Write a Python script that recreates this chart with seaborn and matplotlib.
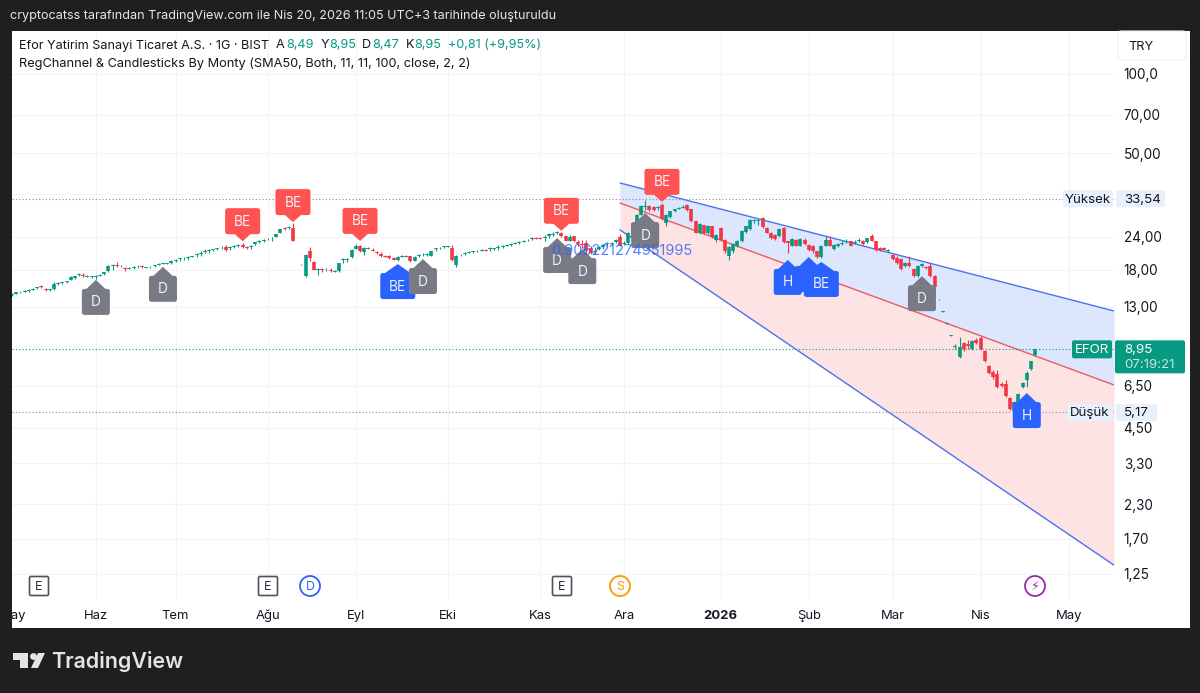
import matplotlib
matplotlib.use('Agg')
import matplotlib.pyplot as plt
from matplotlib.patches import Rectangle, FancyBboxPatch, Polygon, Circle
import numpy as np
import seaborn as sns

# --- Data ---
opens = [14.4, 14.6, 14.75, 14.85, 14.9, 15.1, 15.3, 15.6, 15.25, 15.0,
         15.2, 15.85, 15.95, 16.1, 16.5, 16.75, 17.15, 17.15, 16.85, 16.9,
         16.85, 17.05, 17.25, 17.75, 18.55, 18.8, 18.55, 18.3, 18.15, 18.25,
         18.35, 18.6, 18.3, 18.35, 18.55, 18.8, 18.9, 18.95, 19.0, 19.4,
         19.7, 19.85, 20.0, 20.1, 20.4, 20.6, 21.0, 21.2, 21.4, 21.55,
         21.7, 21.9, 21.7, 22.0, 22.1, 22.3, 21.95, 21.9, 22.45, 22.9,
         23.2, 23.45, 23.65, 24.0, 24.9, 25.85, 25.9, 25.9, 21.0, 18.85,
         16.95, 21.1, 19.3, 17.95, 18.1, 17.9, 18.0, 17.7, 17.75, 19.5,
         19.6, 20.1, 21.65, 22.15, 20.95, 21.65, 21.45, 21.0, 20.65, 20.35,
         20.25, 19.9, 19.5, 20.15, 20.15, 20.2, 19.4, 20.25, 20.4, 20.5,
         20.35, 21.5, 21.7, 21.9, 22.0, 21.8, 18.8, 20.4, 20.7, 20.8,
         20.95, 21.1, 21.25, 21.4, 21.5, 21.55, 21.8, 21.95, 22.1, 22.35,
         22.55, 22.8, 23.0, 23.25, 23.55, 23.8, 23.85, 23.75, 24.2, 24.45,
         24.8, 24.9, 24.1, 23.2, 24.1, 23.0, 22.5, 22.65, 21.8, 20.95,
         21.65, 22.0, 22.45, 22.5, 23.0, 23.9, 22.5, 22.65, 23.7, 26.6,
         29.1, 31.3, 31.45, 31.25, 30.9, 31.7, 27.0, 28.6, 30.1, 30.7,
         31.0, 31.7, 30.5, 27.45, 24.9, 26.6, 24.75, 26.35, 23.35, 25.9,
         23.35, 20.2, 21.1, 22.05, 23.05, 25.1, 25.65, 27.45, 27.6, 28.3,
         25.9, 24.9, 24.4, 24.1, 25.9, 23.05, 22.2, 23.35, 22.2, 23.35,
         22.35, 22.2, 21.1, 20.15, 22.2, 23.35, 21.6, 22.2, 22.5, 22.9,
         23.05, 22.7, 23.05, 23.15, 22.85, 24.1, 23.05, 21.8, 21.75, 21.2,
         20.5, 19.9, 19.75, 18.55, 19.1, 18.1, 17.05, 18.65, 18.45, 18.55,
         17.05, 13.9, 12.45, 11.2, 10.1, 9.1, 8.35, 9.45, 9.4, 9.0,
         9.7, 9.85, 8.85, 7.75, 7.35, 7.2, 6.6, 6.6, 5.85, 5.2,
         5.65, 6.45, 6.85, 7.55, 8.49]
closes = [14.55, 14.75, 14.85, 14.95, 15.0, 15.25, 15.45, 15.4, 15.05, 15.15,
          15.85, 16.0, 16.1, 16.25, 16.9, 16.95, 17.25, 16.95, 16.98, 17.0,
          17.0, 17.2, 17.6, 18.65, 18.75, 18.6, 18.65, 18.1, 18.3, 18.45,
          18.5, 18.4, 18.45, 18.5, 18.7, 18.9, 19.0, 19.05, 19.45, 19.6,
          19.85, 20.0, 20.15, 20.25, 20.6, 20.8, 21.2, 21.35, 21.55, 21.7,
          21.85, 21.45, 21.9, 22.15, 22.25, 22.0, 21.8, 22.05, 22.85, 23.15,
          23.4, 23.6, 23.8, 24.6, 25.6, 25.65, 26.1, 23.2, 21.05, 18.9,
          20.5, 19.9, 18.0, 18.1, 17.95, 18.0, 17.85, 17.8, 19.05, 19.7,
          19.8, 21.3, 22.05, 21.1, 21.8, 21.8, 21.2, 20.8, 20.3, 20.15,
          19.9, 19.6, 20.1, 20.3, 20.3, 19.4, 20.1, 20.4, 20.55, 20.6,
          21.1, 21.7, 21.85, 22.05, 22.1, 19.5, 20.35, 20.55, 20.85, 20.95,
          21.1, 21.25, 21.4, 21.25, 21.7, 21.7, 21.95, 22.1, 22.25, 22.5,
          22.7, 22.95, 23.15, 23.4, 23.75, 23.55, 23.6, 24.0, 24.5, 24.65,
          24.95, 24.1, 23.15, 24.0, 23.05, 22.6, 22.25, 21.1, 20.8, 21.2,
          21.9, 22.3, 22.65, 22.7, 23.3, 22.2, 22.7, 24.9, 27.1, 29.1,
          31.45, 31.55, 30.4, 30.4, 31.1, 28.0, 29.1, 30.0, 30.5, 31.0,
          31.3, 30.4, 27.45, 24.9, 26.8, 24.75, 26.45, 23.95, 24.4, 23.35,
          21.1, 22.0, 22.55, 23.2, 25.35, 26.35, 27.8, 27.75, 27.85, 26.1,
          24.9, 23.7, 23.5, 25.75, 22.85, 22.65, 23.5, 22.2, 23.5, 22.55,
          21.4, 21.1, 20.15, 22.2, 23.35, 22.2, 22.35, 22.5, 22.8, 23.2,
          22.2, 23.0, 23.35, 22.55, 23.7, 23.2, 21.4, 21.3, 21.45, 21.45,
          19.75, 19.1, 18.1, 19.1, 18.55, 17.05, 18.55, 18.9, 18.2, 16.95,
          15.45, 13.95, 12.5, 11.25, 10.15, 9.2, 9.15, 8.95, 9.2, 9.6,
          9.5, 9.0, 8.05, 7.25, 7.0, 6.45, 6.5, 5.95, 5.3, 5.65,
          6.05, 6.65, 7.3, 8.05, 8.95]
highs = [14.7, 14.85, 14.95, 15.05, 15.2, 15.35, 15.5, 15.7, 15.3, 15.2,
         16.1, 16.1, 16.2, 16.35, 17.0, 17.05, 17.4, 17.4, 17.1, 17.05,
         17.1, 17.3, 17.7, 18.8, 18.95, 19.3, 18.8, 18.4, 18.4, 18.65,
         18.7, 18.8, 18.5, 18.55, 18.75, 19.0, 19.05, 19.1, 19.6, 19.7,
         20.0, 20.15, 20.3, 20.35, 20.75, 21.1, 21.5, 21.5, 21.65, 21.85,
         22.1, 22.3, 22.15, 22.35, 22.5, 22.8, 22.1, 22.3, 23.0, 23.3,
         23.6, 23.75, 24.0, 24.7, 25.75, 26.2, 26.4, 27.0, 21.05, 18.9,
         20.6, 21.9, 19.45, 18.3, 18.25, 18.2, 18.3, 17.9, 19.15, 20.0,
         20.0, 21.5, 22.5, 22.35, 22.0, 21.95, 21.7, 21.1, 20.95, 20.55,
         20.55, 20.05, 20.25, 20.4, 20.45, 20.35, 20.3, 20.6, 20.75, 20.8,
         21.2, 21.85, 22.0, 22.15, 22.2, 22.35, 20.55, 20.7, 20.95, 21.1,
         21.2, 21.4, 21.5, 21.5, 22.0, 21.85, 22.25, 22.3, 22.35, 22.75,
         22.85, 23.1, 23.35, 23.6, 23.95, 23.9, 24.0, 24.3, 24.85, 25.0,
         25.3, 25.1, 24.2, 24.3, 24.2, 23.4, 23.35, 23.3, 22.2, 21.9,
         22.2, 22.5, 22.85, 23.0, 23.6, 24.6, 23.2, 25.0, 27.3, 29.2,
         31.6, 33.1, 31.7, 31.5, 31.4, 32.2, 29.3, 30.2, 30.7, 31.3,
         31.6, 32.0, 30.6, 27.6, 27.0, 26.7, 26.6, 26.5, 24.6, 26.1,
         23.5, 22.2, 22.7, 23.35, 25.5, 26.5, 28.0, 28.0, 28.1, 28.6,
         26.1, 25.05, 24.55, 25.95, 26.15, 23.2, 23.8, 23.5, 23.65, 23.7,
         22.5, 22.4, 21.25, 22.35, 24.2, 24.1, 22.5, 22.8, 23.1, 23.6,
         23.2, 23.3, 23.8, 23.3, 23.85, 24.6, 23.2, 21.95, 21.9, 21.6,
         20.7, 20.3, 19.9, 19.25, 20.2, 18.25, 18.7, 19.1, 18.6, 19.1,
         17.2, 13.95, 12.5, 11.25, 10.15, 9.35, 9.95, 9.55, 9.7, 9.75,
         9.85, 10.05, 8.9, 7.8, 7.5, 7.45, 6.75, 6.85, 5.9, 5.7,
         6.1, 6.7, 7.4, 8.1, 8.95]
lows = [14.25, 14.5, 14.7, 14.75, 14.8, 15.0, 15.25, 15.3, 14.95, 14.9,
        15.1, 15.75, 15.9, 15.95, 16.4, 16.55, 17.05, 16.85, 16.8, 16.75,
        16.6, 16.95, 17.2, 17.7, 18.0, 18.4, 18.45, 17.85, 18.05, 18.1,
        18.2, 18.2, 18.25, 18.25, 18.5, 18.75, 18.85, 18.9, 18.9, 19.25,
        19.4, 19.6, 19.6, 20.05, 20.15, 20.2, 20.8, 20.85, 21.25, 21.45,
        21.5, 21.2, 21.35, 21.85, 21.95, 21.85, 21.65, 21.55, 22.3, 22.75,
        23.0, 23.3, 23.05, 23.9, 24.8, 25.4, 25.7, 23.1, 20.95, 18.8,
        16.9, 19.4, 17.9, 17.1, 17.7, 17.75, 17.7, 17.65, 17.7, 19.1,
        19.25, 20.0, 21.55, 20.95, 20.5, 21.5, 21.1, 20.7, 20.1, 20.05,
        19.75, 19.5, 19.45, 20.05, 20.05, 19.3, 19.35, 20.1, 20.3, 20.25,
        20.3, 21.1, 21.6, 21.85, 21.95, 19.4, 18.4, 20.3, 20.5, 20.75,
        20.85, 21.0, 21.1, 21.15, 21.1, 21.45, 21.45, 21.85, 22.05, 22.15,
        22.45, 22.5, 22.85, 23.15, 23.35, 23.45, 23.5, 23.2, 23.85, 24.2,
        24.6, 24.0, 23.05, 23.05, 22.95, 22.2, 21.8, 20.9, 20.6, 20.7,
        21.3, 21.6, 22.2, 22.3, 22.7, 22.05, 22.35, 22.5, 23.6, 26.5,
        29.0, 30.4, 30.2, 30.2, 30.3, 27.9, 26.3, 28.4, 29.9, 30.5,
        30.9, 30.2, 27.3, 24.8, 24.7, 24.6, 24.6, 23.8, 23.0, 23.2,
        20.9, 19.6, 20.9, 21.9, 22.9, 24.9, 25.5, 27.2, 26.6, 25.95,
        24.75, 23.55, 23.35, 23.95, 22.7, 20.9, 22.05, 22.05, 22.05, 22.4,
        21.25, 20.9, 20.0, 20.0, 22.05, 22.05, 21.3, 22.0, 22.35, 22.7,
        22.05, 22.5, 22.9, 22.4, 22.7, 23.05, 21.25, 21.15, 21.3, 21.05,
        19.6, 18.95, 17.95, 18.4, 18.4, 16.9, 16.9, 18.5, 18.05, 16.8,
        15.1, 13.85, 12.4, 11.15, 10.05, 8.95, 8.3, 8.85, 9.0, 8.9,
        9.4, 8.9, 8.0, 7.2, 6.9, 6.4, 6.45, 5.9, 5.25, 5.17,
        5.6, 6.4, 6.45, 7.5, 8.47]

# regression channel ends
chan_x = [145, 262.8]
chan_upper = [38.47, 12.53]
chan_mid = [32.28, 6.55]
chan_lower = [25.5, 1.35]

# markers: bar index, price at the tip, text, colour, pointing up or not
mark_idx = [55, 67, 83, 131, 155, 20, 36, 92, 98, 130, 136, 151, 185, 190, 193, 217, 242]
mark_price = [23.1, 27.3, 23.15, 25.3, 32.6, 16.45, 18.45, 18.9, 19.75, 23.75, 21.55, 29.55, 19.6, 20.1, 19.25, 17.0, 6.1]
mark_text = ['BE', 'BE', 'BE', 'BE', 'BE', 'D', 'D', 'BE', 'D', 'D', 'D', 'D', 'H', 'H', 'BE', 'D', 'H']
mark_up = [False] * 5 + [True] * 12

price_ticks = [100, 70, 50, 24, 18, 13, 6.5, 4.5, 3.3, 2.3, 1.7, 1.25]
price_labels = ['100,0', '70,00', '50,00', '24,00', '18,00', '13,00', '6,50', '4,50', '3,30', '2,30', '1,70', '1,25']
grid_prices = [100, 70, 50, 35, 24, 18, 13, 9.2, 6.5, 4.5, 3.3, 2.3, 1.7, 1.25]

time_idx = [0.2, 20, 39, 61, 82, 104, 126, 146, 169, 190, 210, 231, 252]
time_labels = ['May', 'Haz', 'Tem', 'Ağu', 'Eyl', 'Eki', 'Kas', 'Ara', '2026', 'Şub', 'Mar', 'Nis', 'May']

high_price, low_price, last_price = 33.54, 5.17, 8.95

GREEN = '#089981'
RED = '#f23645'
BLUE = '#2962ff'
GREY = '#787b86'
DARK = '#131722'
COL_MARK = {'BE': '#ff5252', 'D': GREY, 'H': BLUE}

sns.set_theme(style='white')
plt.rcParams['font.family'] = ['Inter', 'DejaVu Sans']

fig = plt.figure(figsize=(12, 6.93), dpi=100, facecolor='#1f1f1f')


def px_axes(x0, y0, x1, y1, **kw):
    return fig.add_axes([x0 / 1200, 1 - y1 / 693, (x1 - x0) / 1200, (y1 - y0) / 693], **kw)


# --- Panels ---
bg = px_axes(0, 0, 1200, 693, zorder=0)
bg.set_xlim(0, 1200)
bg.set_ylim(693, 0)
bg.set_axis_off()
bg.add_patch(Rectangle((12, 31), 1178, 597, fc='white', ec='none'))

ax = px_axes(12, 32, 1114, 600, zorder=1)
ax.patch.set_alpha(0)
ax.set_yscale('log')
ax.set_xlim(0, 262.8)
ax.set_ylim(0.9945, 144.5)
sns.despine(ax=ax, left=True, bottom=True, right=True, top=True)

ov = px_axes(0, 0, 1200, 693, zorder=3)
ov.patch.set_alpha(0)
ov.set_xlim(0, 1200)
ov.set_ylim(693, 0)
ov.set_axis_off()


def to_px(i, price):
    dx, dy = ax.transData.transform((i, price))
    return dx, 693 - dy


# --- Grid and price scale ---
ax.set_xticks(time_idx[1:], [])
ax.xaxis.set_tick_params(length=0)
ax.grid(True, axis='x', color='#f2f3f5', lw=0.8)
ax.set_axisbelow(True)
for p in grid_prices:
    ax.axhline(p, color='#f2f3f5', lw=0.8, zorder=0.5)
ax.yaxis.tick_right()
ax.set_yticks(price_ticks, price_labels)
ax.minorticks_off()
ax.tick_params(axis='y', length=0, pad=7, labelsize=9.8, labelcolor=DARK)
ax.tick_params(axis='x', which='both', length=0)

# --- Regression channel ---
ax.fill_between(chan_x, chan_mid, chan_upper, color='#dce6fc', lw=0, zorder=1)
ax.fill_between(chan_x, chan_lower, chan_mid, color='#fde3e3', lw=0, zorder=1)
for vals, col in [(chan_upper, '#4a72ec'), (chan_mid, '#ec5a64'), (chan_lower, '#4a72ec')]:
    sns.lineplot(x=chan_x, y=vals, color=col, lw=1.0, ax=ax, zorder=2, legend=False)
ax.set_xlim(0, 262.8)
ax.set_ylim(0.9945, 144.5)

# --- Levels ---
ax.axhline(high_price, color='#8a8d96', lw=0.8, ls=(0, (1, 2)), zorder=2)
ax.axhline(low_price, color='#8a8d96', lw=0.8, ls=(0, (1, 2)), zorder=2)
ax.axhline(last_price, color=GREEN, lw=0.8, ls=(0, (1, 2)), zorder=2)

# --- Candles ---
idx = np.arange(len(closes))
o, c, h, l = map(np.array, (opens, closes, highs, lows))
cols = np.where(c >= o, GREEN, RED)
ax.vlines(idx, l, h, colors=cols, lw=0.8, zorder=3)
ax.vlines(idx, np.minimum(o, c), np.maximum(o, c), colors=cols, lw=2.6, zorder=3, capstyle='butt')

# --- Markers ---
z = 4
for i, p, txt, up in zip(mark_idx, mark_price, mark_text, mark_up):
    col = COL_MARK[txt] if (txt != 'BE' or not up) else BLUE
    tx, ty = to_px(i, p)
    w = 35 if txt == 'BE' else 28
    if up:
        top, bot = ty + 9, ty + 35
        shape = [(tx, ty), (tx - w / 2 + 4, ty + 9.5), (tx - w / 2 + 2, ty + 9.5), (tx + w / 2 - 2, ty + 9.5), (tx + w / 2 - 4, ty + 9.5)]
    else:
        top, bot = ty - 33, ty - 7
        shape = [(tx, ty), (tx - 9, ty - 8), (tx + 9, ty - 8)]
    ov.add_patch(FancyBboxPatch((tx - w / 2 + 2, top + 2), w - 4, bot - top - 4,
                                boxstyle='round,pad=2,rounding_size=2.5', fc=col, ec='none', zorder=z))
    ov.add_patch(Polygon(shape, fc=col, ec='none', zorder=z))
    ov.text(tx, (top + bot) / 2 + 0.5, txt, color='#f2f2f2', fontsize=9.8, ha='center', va='center', zorder=z)
    z += 0.01

ov.text(551, 251, '0.906221274951995', color=BLUE, alpha=0.8, fontsize=10.5, va='center', zorder=6)

# --- Event icons ---
for xp in [39, 268, 562]:
    ov.add_patch(FancyBboxPatch((30.5 + xp - 39, 577.5), 17, 17, boxstyle='round,pad=1,rounding_size=1.5',
                                fc='white', ec='#50535e', lw=1.2, zorder=4))
    ov.text(xp, 586.5, 'E', color='#2a2e39', fontsize=9, ha='center', va='center', zorder=5)
for xp, col, txt in [(310, BLUE, 'D'), (620, '#ff9800', 'S'), (1035, '#9c27b0', '⚡')]:
    ov.add_patch(Circle((xp, 586), 10, fc='white', ec=col, lw=1.3, zorder=4))
    ov.text(xp, 586.5, txt, color=col, fontsize=9, ha='center', va='center', zorder=5)

# --- Price labels on the right ---
def pill(x0, x1, yc, h_, col, txt, txt_col, tx=None, **kw):
    ov.add_patch(FancyBboxPatch((x0 + 2, yc - h_ / 2 + 2), x1 - x0 - 4, h_ - 4, boxstyle='round,pad=2,rounding_size=2',
                                fc=col, ec='none', zorder=6))
    ov.text(tx if tx else (x0 + x1) / 2, yc + 1, txt, color=txt_col, fontsize=9.6,
            ha='left' if tx else 'center', va='center', zorder=7, **kw)


_, y_high = to_px(0, high_price)
_, y_low = to_px(0, low_price)
_, y_last = to_px(0, last_price)
pill(1063, 1113, y_high, 17, '#e8f0fb', 'Yüksek', DARK)
pill(1116, 1165, y_high, 17, '#e8f0fb', '33,54', DARK, tx=1124)
pill(1067, 1113, y_low + 0.5, 17, '#e8f0fb', 'Düşük', DARK)
pill(1116, 1157, y_low + 0.5, 17, '#e8f0fb', '5,17', DARK, tx=1124)
pill(1072, 1112, y_last, 18, GREEN, 'EFOR', 'white')
ov.add_patch(FancyBboxPatch((1117, y_last - 7), 66, 29, boxstyle='round,pad=2,rounding_size=2', fc=GREEN, ec='none', zorder=6))
ov.text(1124, y_last + 1, '8,95', color='white', fontsize=9.6, va='center', zorder=7)
ov.text(1124, y_last + 16, '07:19:21', color='#c4e6df', fontsize=9.6, va='center', zorder=7)

ov.add_patch(FancyBboxPatch((1120, 33), 64, 25, boxstyle='round,pad=2,rounding_size=3', fc='white', ec='#f0f1f3', lw=0.8, zorder=6))
ov.text(1128, 46.5, 'TRY', color=DARK, fontsize=9.2, va='center', zorder=7)

# --- Time axis ---
tax = px_axes(12, 600, 1114, 628, zorder=2)
tax.set_xlim(0, 262.8)
tax.set_ylim(0, 1)
tax.set_axis_off()
for xv, lab in zip(time_idx, time_labels):
    tax.text(xv, 0.42, lab, color=DARK, fontsize=9.4, ha='center', va='center', clip_on=True,
             fontweight='bold' if lab == '2026' else 'normal')

# --- Header and legend ---
ov.text(10, 16.5, 'cryptocatss tarafından TradingView.com ile Nis 20, 2026 11:05 UTC+3 tarihinde oluşturuldu',
        color='#e6e6e6', fontsize=9.1, va='center')
ov.text(19, 45.5, 'Efor Yatirim Sanayi Ticaret A.S. · 1G · BIST', color=DARK, fontsize=9.1, va='center')
for xp, txt, col in [(276, 'A', DARK), (286, '8,49', GREEN), (321, 'Y', DARK), (329, '8,95', GREEN), (362, 'D', DARK),
                     (372, '8,47', GREEN), (406, 'K', DARK), (414, '8,95', GREEN), (448, '+0,81 (+9,95%)', GREEN)]:
    ov.text(xp, 45.5, txt, color=col, fontsize=9.1, va='center')
ov.text(19, 63.5, 'RegChannel & Candlesticks By Monty (SMA50, Both, 11, 11, 100, close, 2, 2)', color=DARK, fontsize=9.2, va='center')

# --- Logo ---
ov.add_patch(Polygon([(13, 653), (28, 653), (28, 668), (20, 668), (20, 660), (13, 660)], fc='#e4e4e4', ec='none'))
ov.add_patch(Circle((33.5, 656.5), 3.4, fc='#e4e4e4', ec='none'))
ov.add_patch(Polygon([(38, 653), (45, 653), (38, 668), (31, 668)], fc='#e4e4e4', ec='none'))
ov.text(51, 661, 'TradingView', color='#e4e4e4', fontsize=15.4, fontweight='semibold', va='center')

fig.savefig('out.png', dpi=100, facecolor=fig.get_facecolor())
